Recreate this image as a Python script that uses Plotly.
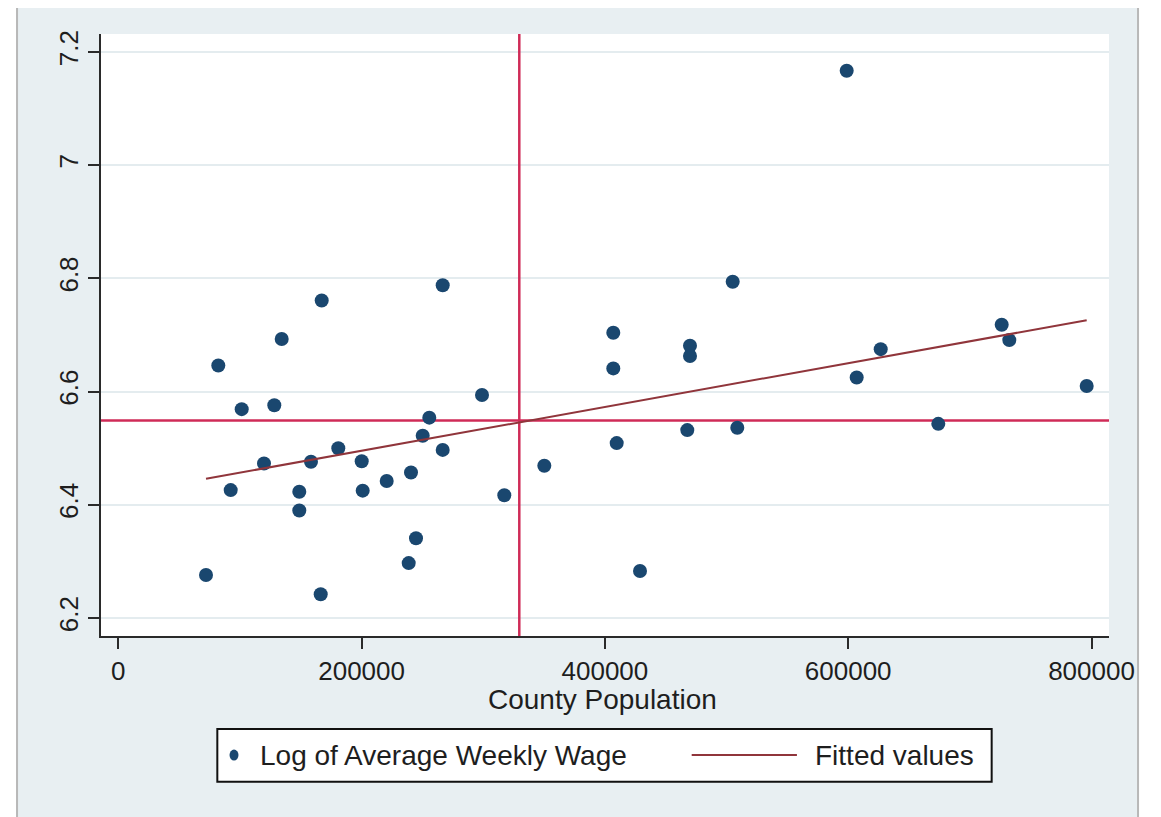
import plotly.graph_objects as go

# ---- data ----
population = [72090, 82200, 92400, 101440, 119770, 128240, 134320, 148790, 148790,
              158400, 166380, 167200, 180850, 200080, 200900, 220630, 238720, 240610,
              244720, 250230, 255650, 266670, 266670, 298970, 317300, 350190, 406900,
              406900, 409700, 428850, 467730, 469950, 469950, 505050, 508830, 598770,
              606980, 626720, 674060, 726180, 732430, 796040]
log_wage = [6.276, 6.646, 6.426, 6.569, 6.473, 6.576, 6.693, 6.423, 6.390,
            6.476, 6.242, 6.761, 6.500, 6.477, 6.425, 6.442, 6.297, 6.457,
            6.341, 6.522, 6.554, 6.497, 6.788, 6.594, 6.417, 6.469, 6.704,
            6.641, 6.509, 6.283, 6.532, 6.681, 6.663, 6.794, 6.536, 7.167,
            6.625, 6.675, 6.543, 6.718, 6.691, 6.610]
fit_x = [72090, 796040]
fit_y = [6.446, 6.726]
mean_population = 329630
mean_log_wage = 6.549

x_range = [-14221, 814385]
y_range = [6.1682, 7.2318]
x_ticks = [0, 200000, 400000, 600000, 800000]
x_tick_labels = ["0", "200000", "400000", "600000", "800000"]
y_ticks = [6.2, 6.4, 6.6, 6.8, 7.0, 7.2]
y_tick_labels = ["6.2", "6.4", "6.6", "6.8", "7", "7.2"]

# ---- style ----
FONT = "Liberation Sans, Arial, sans-serif"
NAVY = "#1a476f"
MAROON = "#90353b"
CRANBERRY = "#cf2b57"
BG = "#e8eff2"
AXIS = "#2a2a2a"
TXT = "#1e1e1e"

fig = go.Figure()

# reference lines at the means (drawn beneath the markers)
fig.add_trace(go.Scatter(x=[mean_population, mean_population], y=y_range, mode="lines",
                         line=dict(color=CRANBERRY, width=2.5), hoverinfo="skip", showlegend=False))
fig.add_trace(go.Scatter(x=x_range, y=[mean_log_wage, mean_log_wage], mode="lines",
                         line=dict(color=CRANBERRY, width=2.5), hoverinfo="skip", showlegend=False))

fig.add_trace(go.Scatter(
    x=population, y=log_wage, mode="markers",
    marker=dict(symbol="circle", size=14, color=NAVY, line=dict(width=0)),
    name="Log of Average Weekly Wage", showlegend=False))

fig.add_trace(go.Scatter(
    x=fit_x, y=fit_y, mode="lines",
    line=dict(color=MAROON, width=2),
    name="Fitted values", showlegend=False))

shapes = [
    # outer graph region
    dict(type="rect", xref="paper", yref="paper", x0=-0.0833, x1=1.0288, y0=-0.32, y1=1.0482,
         fillcolor=BG, line=dict(color="#b8b8b8", width=2), layer="below"),
    # white plot region
    dict(type="rect", xref="paper", yref="paper", x0=0, x1=1, y0=0, y1=1,
         fillcolor="white", line=dict(width=0), layer="below"),
    # legend box
    dict(type="rect", xref="paper", yref="paper", x0=0.1154, x1=0.8836, y0=-0.2420, y1=-0.1545,
         fillcolor="white", line=dict(color="#111111", width=2), layer="above"),
    # legend marker
    dict(type="circle", xref="paper", yref="paper", x0=0.1275, x1=0.1364, y0=-0.2068, y1=-0.1886,
         fillcolor=NAVY, line=dict(width=0), layer="above"),
    # legend line sample
    dict(type="line", xref="paper", yref="paper", x0=0.586, x1=0.6904, y0=-0.1977, y1=-0.1977,
         line=dict(color=MAROON, width=2), layer="above"),
]

annotations = [
    dict(text="County Population", xref="paper", yref="paper", x=0.498, y=-0.1050,
         xanchor="center", yanchor="middle", showarrow=False,
         font=dict(family=FONT, size=28, color=TXT)),
    dict(text="Log of Average Weekly Wage", xref="paper", yref="paper", x=0.1558, y=-0.1977,
         xanchor="left", yanchor="middle", showarrow=False,
         font=dict(family=FONT, size=28, color=TXT)),
    dict(text="Fitted values", xref="paper", yref="paper", x=0.7061, y=-0.1977,
         xanchor="left", yanchor="middle", showarrow=False,
         font=dict(family=FONT, size=28, color=TXT)),
]

fig.update_layout(
    width=1153, height=809, autosize=False,
    margin=dict(l=93, r=52, t=26, b=181, pad=0),
    paper_bgcolor="white", plot_bgcolor="white",
    showlegend=False,
    shapes=shapes, annotations=annotations,
    font=dict(family=FONT, size=27, color=TXT),
    xaxis=dict(range=x_range, tickvals=x_ticks, ticktext=x_tick_labels, automargin=False,
               showgrid=False, zeroline=False, showline=True, linecolor=AXIS, linewidth=2,
               ticks="outside", ticklen=11, tickwidth=2, tickcolor=AXIS,
               tickfont=dict(family=FONT, size=26, color=TXT)),
    yaxis=dict(range=y_range, tickvals=y_ticks, ticktext=y_tick_labels, automargin=False,
               tickangle=-90, showgrid=True, gridcolor="#e4ecef", gridwidth=1.5,
               zeroline=False, showline=True, linecolor=AXIS, linewidth=2,
               ticks="outside", ticklen=11, tickwidth=2, tickcolor=AXIS,
               tickfont=dict(family=FONT, size=26, color=TXT)),
)

fig.write_html("out.html")
